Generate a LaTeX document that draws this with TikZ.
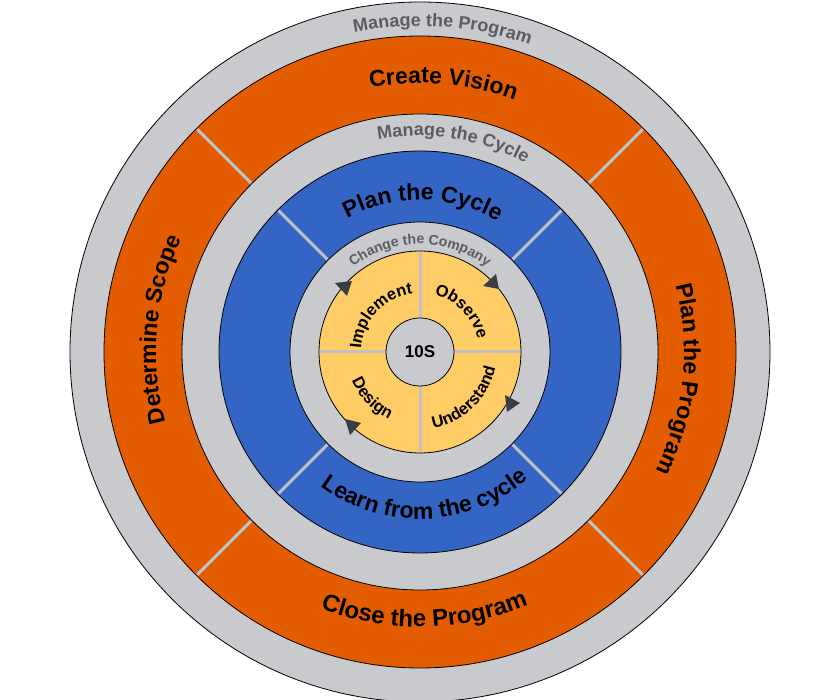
\documentclass[tikz,border=0pt]{standalone}
\usepackage{fontspec}
\setmainfont{Liberation Sans}
\usetikzlibrary{decorations.text}
\definecolor{ringgray}{RGB}{201,202,206}
\definecolor{ringorange}{RGB}{228,92,0}
\definecolor{ringblue}{RGB}{52,101,196}
\definecolor{ringyellow}{RGB}{255,204,102}
\definecolor{textgray}{RGB}{92,93,99}
\definecolor{divgray}{RGB}{192,193,198}
\definecolor{arrowfill}{RGB}{58,61,68}
\newcommand\fBig{\fontsize{23}{23}\selectfont\bfseries}
\newcommand\fClose{\fontsize{24}{24}\selectfont\bfseries}
\newcommand\fLearn{\fontsize{23}{23}\selectfont\bfseries}
\newcommand\fMid{\fontsize{18}{18}\selectfont\bfseries}
\newcommand\fSmall{\fontsize{14}{14}\selectfont\bfseries}
\newcommand\fQ{\fontsize{16.5}{16.5}\selectfont\bfseries}
\begin{document}
\begin{tikzpicture}[x=1pt,y=1pt,
  ring/.style={draw=black, line width=0.8pt},
  divider/.style={draw=divgray, line width=3pt},
  tri/.style={fill=arrowfill}]
\useasboundingbox (-420,-348) rectangle (420,352);
\fill[white] (-420,-348) rectangle (420,352);
% rings
\filldraw[ring, fill=ringgray]   (0,0) circle[radius=350pt];
\filldraw[ring, fill=ringorange] (0,0) circle[radius=316pt];
\filldraw[ring, fill=ringgray]   (0,0) circle[radius=238pt];
\filldraw[ring, fill=ringblue]   (0,0) circle[radius=201pt];
\filldraw[ring, fill=ringgray]   (0,0) circle[radius=130pt];
\filldraw[ring, fill=ringyellow] (0,0) circle[radius=101pt];
% dividers
\foreach \a in {45,135,225,315}{
  \draw[divider] (\a:239pt) -- (\a:315pt);
  \draw[divider] (\a:131pt) -- (\a:200pt);
}
\foreach \a in {0,90,180,270}{
  \draw[divider] (\a:34pt) -- (\a:100pt);
}
\filldraw[ring, fill=ringgray] (0,0) circle[radius=34pt];
\node[font=\fontsize{17}{17}\selectfont\bfseries] (core) at (0,0) {10S};
% arrowheads
\fill[tri] (-85,69) -- (-68,71) -- (-73,56) -- cycle;
\fill[tri] (63,66) -- (76,78) -- (79,63) -- cycle;
\fill[tri] (-75,-67) -- (-59,-71) -- (-70,-83) -- cycle;
\fill[tri] (85,-43) -- (100,-51) -- (87,-60) -- cycle;
% outer gray ring text
\path[decorate, decoration={text along path, text align=center, text color=textgray,
  text={|\fMid|Manage the Program}}]
  (126:326pt) arc[start angle=126, end angle=46, radius=326pt];
% orange ring texts
\path[decorate, decoration={text along path, text align=center,
  text={|\fBig|Create Vision}}]
  (125:269pt) arc[start angle=125, end angle=45, radius=269pt];
\path[decorate, decoration={text along path, text align=center,
  text={|\fBig|Determine Scope}}]
  (215:264pt) arc[start angle=215, end angle=135, radius=264pt];
\path[decorate, decoration={text along path, text align=center,
  text={|\fBig|Plan the Program}}]
  (34:264pt) arc[start angle=34, end angle=-46, radius=264pt];
\path[decorate, decoration={text along path, text align=center,
  text={|\fClose|Close the Program}}]
  (-131:275pt) arc[start angle=-131, end angle=-47, radius=275pt];
% middle gray ring text
\path[decorate, decoration={text along path, text align=center, text color=textgray,
  text={|\fMid|Manage the Cycle}}]
  (126:216pt) arc[start angle=126, end angle=36, radius=216pt];
% blue ring texts
\path[decorate, decoration={text along path, text align=center,
  text={|\fBig|Plan the Cycle}}]
  (134:152pt) arc[start angle=134, end angle=44, radius=152pt];
\path[decorate, decoration={text along path, text align=center,
  text={|\fLearn|Learn from the cycle}}]
  (-145:167pt) arc[start angle=-145, end angle=-31, radius=167pt];
% inner gray ring text
\path[decorate, decoration={text along path, text align=center, text color=textgray,
  text={|\fSmall|Change the Company}}]
  (140:108pt) arc[start angle=140, end angle=40, radius=108pt];
% yellow quadrant texts
\path[decorate, decoration={text along path, text align=center,
  text={|\fQ|Implement}}]
  (184:59pt) arc[start angle=184, end angle=90, radius=59pt];
\path[decorate, decoration={text along path, text align=center,
  text={|\fQ|Observe}}]
  (91:59pt) arc[start angle=91, end angle=-3, radius=59pt];
\path[decorate, decoration={text along path, text align=center,
  text={|\fQ|Design}}]
  (182:74pt) arc[start angle=182, end angle=266, radius=74pt];
\path[decorate, decoration={text along path, text align=center,
  text={|\fQ|Understand}}]
  (-90:77pt) arc[start angle=-90, end angle=-2, radius=77pt];
\end{tikzpicture}
\end{document}
